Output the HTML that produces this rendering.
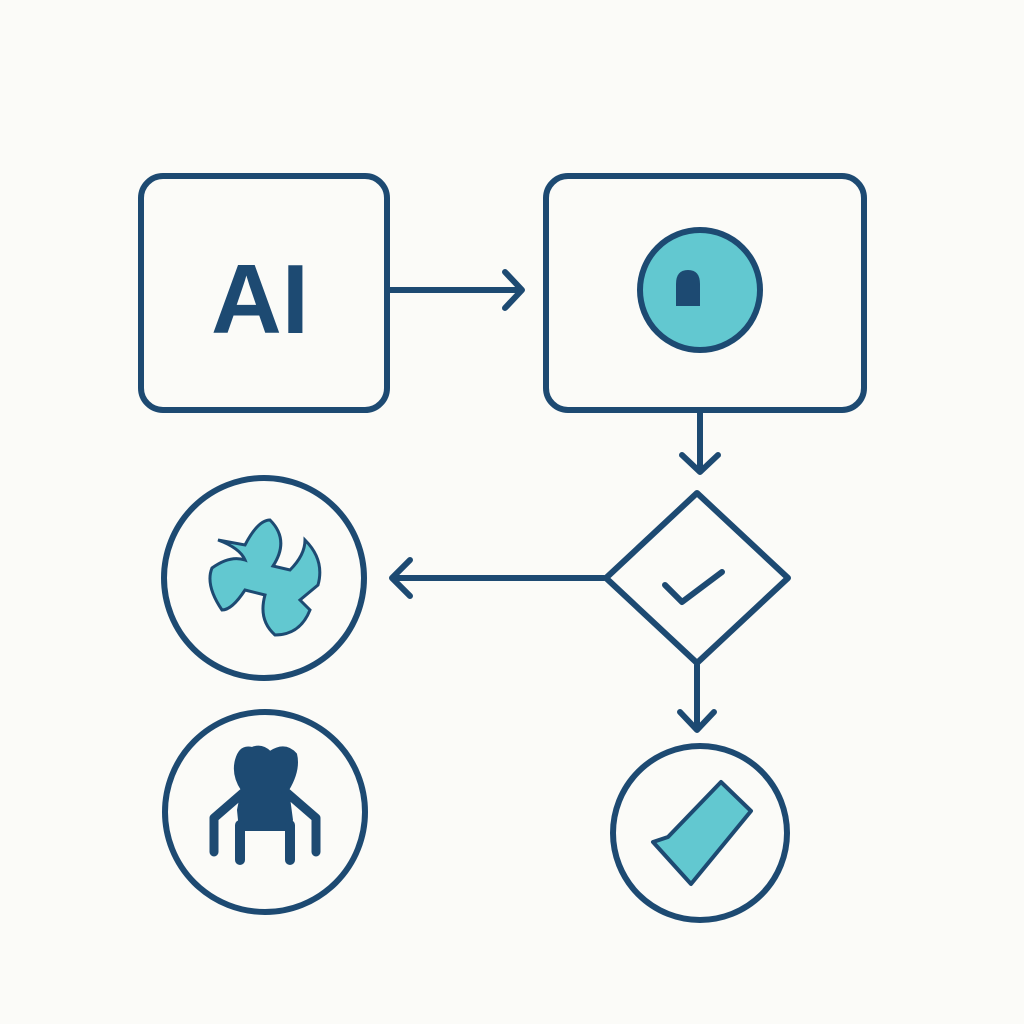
<!DOCTYPE html>
<html><head><style>
html,body{margin:0;padding:0;background:#fbfbf8;}
svg{display:block;}
</style></head><body>
<svg width="1024" height="1024" viewBox="0 0 1024 1024" xmlns="http://www.w3.org/2000/svg">
<rect width="1024" height="1024" fill="#fbfbf8"/>
<g fill="none" stroke="#1d4a72" stroke-width="6" stroke-linecap="round" stroke-linejoin="round">
  <rect x="141" y="176" width="246" height="234" rx="22"/>
  <rect x="546" y="176" width="318" height="234" rx="22"/>
  <line x1="390" y1="290" x2="520" y2="290"/>
  <polyline points="505,272 522,290 505,308"/>
  <line x1="700" y1="412" x2="700" y2="468"/>
  <polyline points="682,455 700,472 718,455"/>
  <polygon points="697,493 788,578 697,663 606,578"/>
  <polyline points="665,585 682,602 722,572"/>
  <line x1="604" y1="578" x2="394" y2="578"/>
  <polyline points="410,560 392,578 410,596"/>
  <line x1="697" y1="665" x2="697" y2="728"/>
  <polyline points="680,712 697,730 714,712"/>
  <circle cx="264" cy="578" r="100"/>
  <circle cx="265" cy="812" r="100"/>
  <circle cx="700" cy="833" r="87"/>
</g>
<text x="260" y="333" font-family="Liberation Sans, sans-serif" font-weight="bold" font-size="98" fill="#1d4a72" text-anchor="middle">AI</text>
<circle cx="700" cy="290" r="60" fill="#62c8d0" stroke="#1d4a72" stroke-width="6"/>
<path d="M676,306 L676,284 Q676,270 688,270 Q700,270 700,284 L700,306 Z" fill="#1d4a72"/>
<path d="M218,540 L245,545 Q258,520 270,520 Q290,540 273,566 L290,570 Q305,555 305,540 Q325,560 318,585 L300,600 L310,610 Q300,635 275,635 Q258,620 265,595 L245,590 Q232,610 222,610 Q205,585 212,568 Q230,555 245,560 Q240,548 218,540 Z" fill="#62c8d0" stroke="#1d4a72" stroke-width="3"/>
<polygon points="721,782 751,811 691,884 653,842 668,837" fill="#62c8d0" stroke="#1d4a72" stroke-width="4" stroke-linejoin="round"/>
<g fill="#1d4a72" stroke="#1d4a72" stroke-linecap="round" stroke-linejoin="round">
  <path d="M236,760 Q240,745 252,748 Q262,744 270,752 Q285,742 296,754 Q300,770 288,790 L292,820 L288,830 L240,830 L238,810 L242,790 Q232,775 236,760 Z" stroke-width="2"/>
  <polyline points="244,792 214,818 214,852" fill="none" stroke-width="9"/>
  <polyline points="286,792 316,818 316,852" fill="none" stroke-width="9"/>
  <line x1="240" y1="825" x2="240" y2="860" stroke-width="10"/>
  <line x1="290" y1="825" x2="290" y2="860" stroke-width="10"/>
</g>
</svg>
</body></html>
